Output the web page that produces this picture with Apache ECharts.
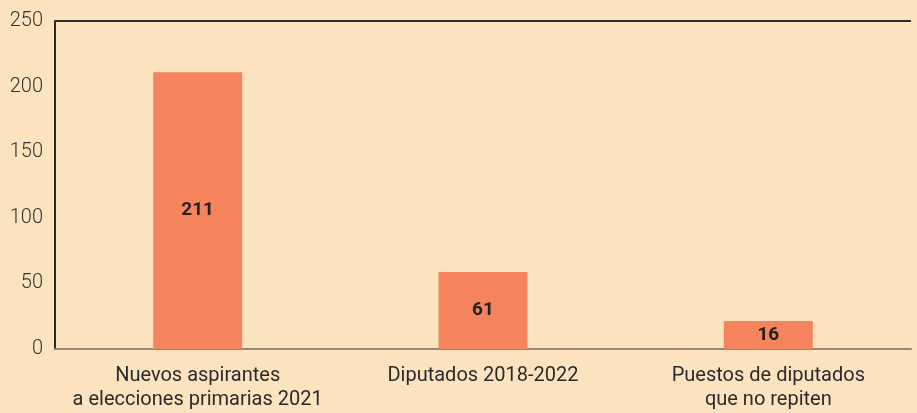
<!DOCTYPE html>
<html><head><meta charset="utf-8">
<script src="https://cdn.jsdelivr.net/npm/echarts@6/dist/echarts.min.js"></script>
<style>html,body{margin:0;padding:0;background:#fce3c0;}#c{width:917px;height:413px;}</style>
</head><body><div id="c"></div>
<script>
var categories = ['Nuevos aspirantes\na elecciones primarias 2021', 'Diputados 2018-2022', 'Puestos de diputados\nque no repiten'];
var barValues = [211, 58.7, 21.4];
var barLabels = ['211', '61', '16'];
var yTicks = [0, 50, 100, 150, 200, 250];

var chart = echarts.init(document.getElementById('c'), null, {renderer: 'canvas'});
chart.setOption({
  backgroundColor: '#fce3c0',
  animation: false,
  grid: {left: 55, right: 6, top: 21, bottom: 64},
  xAxis: {
    type: 'category',
    data: categories,
    axisLine: {show: true, lineStyle: {color: '#968872', width: 2}},
    axisTick: {show: false},
    axisLabel: {interval: 0, color: '#2b2b2b', fontSize: 20, fontFamily: 'Roboto', lineHeight: 24, margin: 15}
  },
  yAxis: {
    type: 'value',
    min: yTicks[0], max: yTicks[yTicks.length - 1], interval: 50,
    axisLine: {show: true, lineStyle: {color: '#2f2a25', width: 2}},
    axisTick: {show: false},
    splitLine: {show: true, lineStyle: {color: ['transparent', 'transparent', 'transparent', 'transparent', 'transparent', '#2f2a25'], width: 2}},
    axisLabel: {color: '#333', fontSize: 20, fontFamily: 'Roboto', fontWeight: 300, margin: 12}
  },
  series: [{
    type: 'bar',
    data: barValues,
    barWidth: 89,
    itemStyle: {color: '#f5845d'},
    label: {
      show: true, position: 'inside',
      formatter: function (p) { return barLabels[p.dataIndex]; },
      color: '#222', fontSize: 19, fontWeight: 'bold', fontFamily: 'Roboto'
    }
  }]
});
</script></body></html>
